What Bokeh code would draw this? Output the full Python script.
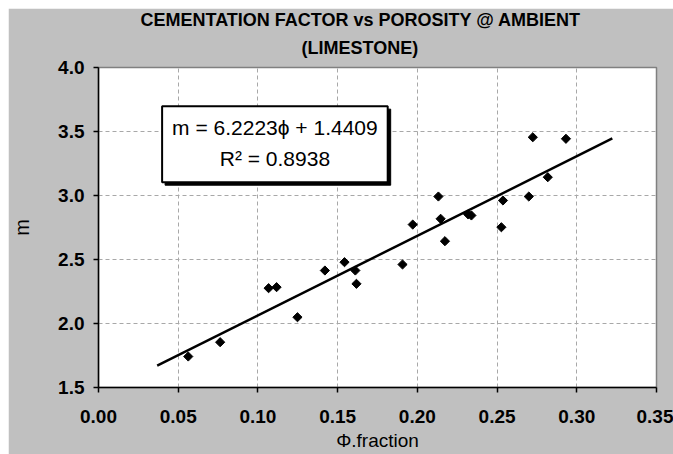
import numpy as np
from bokeh.plotting import figure
from bokeh.models import FixedTicker, PrintfTickFormatter, Label, ColumnDataSource, Title, Spacer
from bokeh.layouts import column, row
from bokeh.embed import file_html
from bokeh.resources import INLINE

# ---- data ----
porosity = [0.0563, 0.0763, 0.1067, 0.1117, 0.1248, 0.1420, 0.1543, 0.1611, 0.1618,
            0.1907, 0.1971, 0.2132, 0.2146, 0.2173, 0.2319, 0.2339, 0.2527, 0.2537,
            0.2699, 0.2724, 0.2818, 0.2932]
cementation = [1.742, 1.854, 2.276, 2.284, 2.049, 2.414, 2.479, 2.414, 2.310,
               2.461, 2.773, 2.992, 2.818, 2.643, 2.852, 2.844, 2.752, 2.961,
               2.992, 3.455, 3.143, 3.443]
trend_x = [0.0368, 0.3223]
trend_y = [1.670, 3.446]
x_ticks = [0.0, 0.05, 0.10, 0.15, 0.20, 0.25, 0.30, 0.35]
y_ticks = [1.5, 2.0, 2.5, 3.0, 3.5, 4.0]
title_lines = ["CEMENTATION FACTOR vs POROSITY @ AMBIENT", "(LIMESTONE)"]
eq_lines = ["m = 6.2223\u03d5 + 1.4409", "R\u00b2 = 0.8938"]
x_label = "\u03a6.fraction"
y_label = "m"

NARROW = "'Liberation Sans Narrow', 'Liberation Sans', Arial, sans-serif"
REG = "'Liberation Sans', Arial, sans-serif"
BG = "#c0c0c0"

p = figure(width=665, height=446, x_range=(0, 0.35), y_range=(1.5, 4.0),
           output_backend="svg", toolbar_location=None,
           min_border_left=87, min_border_right=17, min_border_top=59, min_border_bottom=67)
p.border_fill_color = BG
p.background_fill_color = "white"
p.outline_line_color = "#808080"
p.outline_line_width = 1.5

# two-line title: p.title is the outer (first) line, the added Title sits next to the plot
p.title.text = title_lines[0]
p.title.align = "left"
p.title.offset = 42
p.title.standoff = -8
t2 = Title(text=title_lines[1], align="left", offset=203, standoff=20)
p.add_layout(t2, "above")
for t in (p.title, t2):
    t.text_font = NARROW
    t.text_font_style = "bold"
    t.text_font_size = "18px"
    t.text_color = "black"

for ax, ticks, fmt in ((p.xaxis[0], x_ticks, "%.2f"), (p.yaxis[0], y_ticks, "%.1f")):
    ax.ticker = FixedTicker(ticks=ticks)
    ax.formatter = PrintfTickFormatter(format=fmt)
    ax.axis_line_color = "black"
    ax.axis_line_width = 1.5
    ax.major_tick_line_color = "black"
    ax.major_tick_line_width = 1.5
    ax.major_tick_out = 5
    ax.major_tick_in = 0
    ax.minor_tick_line_color = None
    ax.major_label_text_font = NARROW
    ax.major_label_text_font_style = "bold"
    ax.major_label_text_font_size = "19px"
    ax.major_label_text_color = "black"
    ax.axis_label_text_font = REG
    ax.axis_label_text_font_style = "normal"
    ax.axis_label_text_color = "black"
p.xaxis.major_label_standoff = 17
p.yaxis.major_label_standoff = 9
p.xaxis.axis_label = x_label
p.xaxis.axis_label_text_font_size = "19px"
p.xaxis.axis_label_standoff = 4
p.yaxis.axis_label = y_label
p.yaxis.axis_label_text_font_size = "20px"
p.yaxis.axis_label_standoff = 22

for g in (p.xgrid[0], p.ygrid[0]):
    g.grid_line_color = "#a8a8a8"
    g.grid_line_dash = "4 3"
    g.grid_line_width = 1

# trend line and data
p.line(trend_x, trend_y, line_color="black", line_width=2.5)
src = ColumnDataSource(dict(x=porosity, y=cementation))
p.scatter("x", "y", source=src, marker="square", angle=np.pi / 4, size=6.5,
          fill_color="black", line_color="black")

# equation box (shadow + box), placed in data units
bx0, bx1, by0, by1 = 0.0399, 0.1814, 3.104, 3.698
dx, dy = 3 / 1603, 3 / 128
p.quad(left=[bx0 + dx], right=[bx1 + dx], bottom=[by0 - dy], top=[by1 - dy],
       fill_color="black", line_color="black")
p.quad(left=[bx0], right=[bx1], bottom=[by0], top=[by1],
       fill_color="white", line_color="black", line_width=2)
for txt, yy in zip(eq_lines, (3.531, 3.289)):
    p.add_layout(Label(x=(bx0 + bx1) / 2, y=yy, text=txt, text_align="center",
                       text_baseline="middle", text_font=REG, text_font_size="21px",
                       text_color="black"))

layout = column(Spacer(height=8), row(Spacer(width=8), p))
open("out.html", "w").write(file_html(layout, INLINE))
